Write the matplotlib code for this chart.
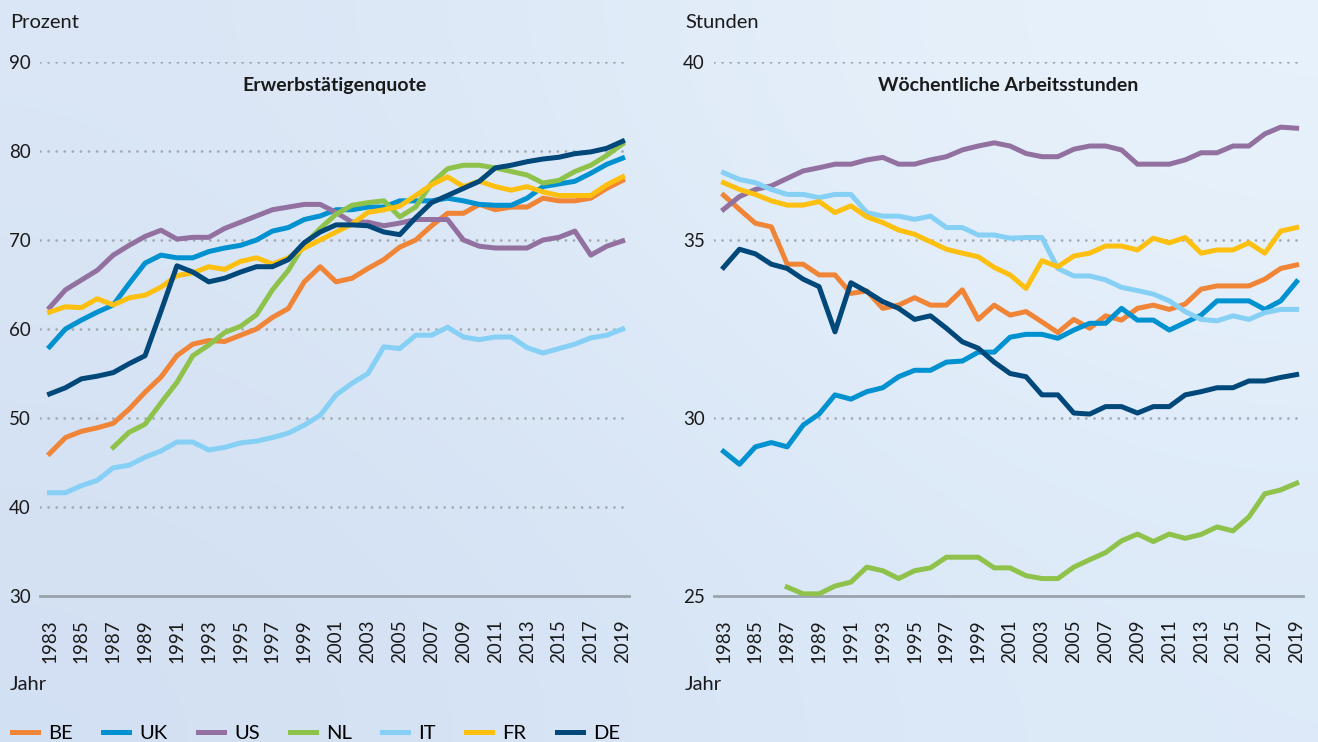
import numpy as np
import matplotlib.pyplot as plt
from matplotlib.lines import Line2D

plt.rcParams['font.family'] = ['Lato', 'DejaVu Sans']

# Jahre
years = np.arange(1983, 2020)
nl_years = np.arange(1987, 2020)
year_ticks = np.arange(1983, 2020, 2)

countries = ['BE', 'UK', 'US', 'NL', 'IT', 'FR', 'DE']
colors = ['#f08537', '#0091d1', '#9271a0', '#8fc24b', '#86d0f5', '#fdc010', '#00477a']

# Erwerbstätigenquote (Prozent)
be_quote = [46.0, 47.8, 48.5, 48.9, 49.4, 51.0, 52.9, 54.6, 57.0, 58.3, 58.7, 58.6, 59.3, 60.0, 61.3, 62.3,
            65.3, 67.0, 65.3, 65.7, 66.8, 67.8, 69.2, 70.0, 71.6, 73.0, 73.0, 74.0, 73.4, 73.7, 73.7, 74.7,
            74.4, 74.4, 74.7, 75.8, 76.7]
uk_quote = [58.0, 60.0, 61.0, 61.9, 62.7, 65.1, 67.4, 68.3, 68.0, 68.0, 68.7, 69.1, 69.4, 70.0, 71.0, 71.4,
            72.3, 72.7, 73.4, 73.4, 73.7, 73.7, 74.4, 74.4, 74.4, 74.7, 74.4, 74.0, 73.9, 73.9, 74.7, 76.0,
            76.3, 76.6, 77.5, 78.5, 79.2]
us_quote = [62.4, 64.4, 65.5, 66.6, 68.3, 69.4, 70.4, 71.1, 70.1, 70.3, 70.3, 71.3, 72.0, 72.7, 73.4, 73.7,
            74.0, 74.0, 73.1, 72.0, 72.0, 71.6, 71.9, 72.3, 72.3, 72.3, 70.0, 69.3, 69.1, 69.1, 69.1, 70.0,
            70.3, 71.0, 68.3, 69.3, 69.9]
nl_quote = [46.7, 48.4, 49.3, 51.7, 54.0, 57.0, 58.2, 59.6, 60.3, 61.6, 64.4, 66.6, 69.5, 71.3, 72.9, 73.9,
            74.2, 74.4, 72.6, 73.7, 76.4, 78.0, 78.4, 78.4, 78.1, 77.7, 77.3, 76.4, 76.7, 77.7, 78.4, 79.5,
            80.8]
it_quote = [41.6, 41.6, 42.4, 43.0, 44.4, 44.7, 45.6, 46.3, 47.3, 47.3, 46.4, 46.7, 47.2, 47.4, 47.8, 48.3,
            49.2, 50.3, 52.6, 53.9, 55.0, 58.0, 57.8, 59.3, 59.3, 60.2, 59.1, 58.8, 59.1, 59.1, 57.9, 57.3,
            57.8, 58.3, 59.0, 59.3, 60.0]
fr_quote = [61.9, 62.5, 62.4, 63.4, 62.7, 63.5, 63.8, 64.7, 66.0, 66.3, 67.0, 66.7, 67.6, 68.0, 67.3, 68.0,
            69.1, 70.0, 70.9, 71.8, 73.1, 73.4, 73.8, 75.0, 76.2, 77.1, 76.0, 76.6, 76.0, 75.6, 76.0, 75.4,
            75.0, 75.0, 75.0, 76.2, 77.1]
de_quote = [52.7, 53.4, 54.4, 54.7, 55.1, 56.1, 57.0, 62.0, 67.1, 66.4, 65.3, 65.7, 66.4, 67.0, 67.0, 67.8,
            69.7, 70.9, 71.7, 71.7, 71.6, 70.9, 70.6, 72.5, 74.2, 75.0, 75.8, 76.6, 78.1, 78.4, 78.8, 79.1,
            79.3, 79.7, 79.9, 80.3, 81.1]

# Wöchentliche Arbeitsstunden
be_std = [36.26, 35.86, 35.47, 35.37, 34.32, 34.32, 34.02, 34.02, 33.5, 33.57, 33.08, 33.17, 33.38, 33.17,
          33.17, 33.6, 32.77, 33.17, 32.89, 32.99, 32.7, 32.4, 32.77, 32.52, 32.87, 32.75, 33.08, 33.17,
          33.05, 33.2, 33.62, 33.71, 33.71, 33.71, 33.9, 34.2, 34.3]
uk_std = [29.06, 28.7, 29.19, 29.31, 29.19, 29.8, 30.11, 30.65, 30.53, 30.74, 30.85, 31.16, 31.34, 31.34,
          31.57, 31.6, 31.85, 31.85, 32.27, 32.35, 32.35, 32.24, 32.47, 32.66, 32.66, 33.08, 32.75, 32.75,
          32.47, 32.68, 32.89, 33.29, 33.29, 33.29, 33.05, 33.29, 33.83]
us_std = [35.86, 36.22, 36.42, 36.52, 36.73, 36.94, 37.03, 37.13, 37.13, 37.25, 37.32, 37.13, 37.13, 37.25,
          37.34, 37.53, 37.64, 37.73, 37.64, 37.43, 37.34, 37.34, 37.55, 37.64, 37.64, 37.53, 37.13, 37.13,
          37.13, 37.25, 37.45, 37.45, 37.64, 37.64, 37.98, 38.17, 38.14]
nl_std = [25.25, 25.06, 25.06, 25.28, 25.39, 25.81, 25.71, 25.49, 25.71, 25.79, 26.09, 26.09, 26.09, 25.79,
          25.79, 25.57, 25.49, 25.49, 25.81, 26.02, 26.22, 26.55, 26.74, 26.53, 26.74, 26.62, 26.73, 26.94,
          26.83, 27.22, 27.87, 27.98, 28.17]
it_std = [36.89, 36.70, 36.61, 36.42, 36.28, 36.28, 36.19, 36.28, 36.28, 35.77, 35.67, 35.67, 35.58, 35.67,
          35.35, 35.35, 35.14, 35.14, 35.05, 35.07, 35.07, 34.2, 33.99, 33.99, 33.88, 33.67, 33.58, 33.48,
          33.29, 32.99, 32.77, 32.73, 32.87, 32.77, 32.96, 33.05, 33.05]
fr_std = [36.61, 36.42, 36.28, 36.1, 35.98, 35.98, 36.08, 35.77, 35.96, 35.65, 35.49, 35.28, 35.16, 34.95,
          34.74, 34.63, 34.53, 34.23, 34.02, 33.64, 34.42, 34.25, 34.55, 34.63, 34.83, 34.83, 34.72, 35.05,
          34.92, 35.07, 34.63, 34.72, 34.72, 34.92, 34.63, 35.25, 35.35]
de_std = [34.23, 34.74, 34.61, 34.32, 34.2, 33.9, 33.69, 32.42, 33.8, 33.55, 33.27, 33.08, 32.77, 32.87,
          32.52, 32.14, 31.96, 31.57, 31.25, 31.16, 30.65, 30.65, 30.14, 30.11, 30.32, 30.32, 30.14, 30.32,
          30.32, 30.65, 30.74, 30.85, 30.85, 31.04, 31.04, 31.14, 31.22]

quote = [be_quote, uk_quote, us_quote, nl_quote, it_quote, fr_quote, de_quote]
stunden = [be_std, uk_std, us_std, nl_std, it_std, fr_std, de_std]

W, H = 1318, 742
fig = plt.figure(figsize=(W / 100, H / 100), dpi=100)

# Hintergrund mit leichtem Verlauf
bg = fig.add_axes([0, 0, 1, 1], zorder=-10)
grad = np.array([[[0.855, 0.902, 0.961], [0.910, 0.949, 0.988]],
                 [[0.824, 0.878, 0.953], [0.867, 0.918, 0.973]]])
bg.imshow(grad, extent=[0, 1, 0, 1], aspect='auto', interpolation='bicubic')
bg.axis('off')


def rect(x0, x1, y0, y1):
    return [x0 / W, 1 - y1 / H, (x1 - x0) / W, (y1 - y0) / H]


def setup(ax, yticks, title, title_x):
    ax.patch.set_visible(False)
    for s in ['top', 'right', 'left']:
        ax.spines[s].set_visible(False)
    ax.spines['bottom'].set_color('#9aa3ab')
    ax.spines['bottom'].set_linewidth(2)
    ax.set_xlim(1982.4, 2019.4)
    ax.set_ylim(yticks[0], yticks[-1])
    ax.set_yticks(yticks)
    ax.set_xticks(year_ticks)
    ax.set_xticklabels([str(y) for y in year_ticks], rotation=90)
    ax.tick_params(axis='both', length=0, labelsize=13.5, colors='#1a1a1a')
    ax.tick_params(axis='x', pad=17)
    ax.tick_params(axis='y', pad=6.5)
    for yv in yticks[1:]:
        ax.axhline(yv, color='#a3a9b0', lw=2, linestyle=(0, (0.01, 2.9)),
                   dash_capstyle='round', zorder=1)
    fig.text(title_x / W, 1 - 91 / H, title, ha='center', va='baseline',
             fontsize=14, fontweight='bold', color='#1a1a1a')


ax1 = fig.add_axes(rect(40, 629, 62, 596))
ax2 = fig.add_axes(rect(714, 1303, 62, 596))
setup(ax1, [30, 40, 50, 60, 70, 80, 90], 'Erwerbstätigenquote', 334)
setup(ax2, [25, 30, 35, 40], 'Wöchentliche Arbeitsstunden', 1008)

for name, col, q, s in zip(countries, colors, quote, stunden):
    xs = nl_years if name == 'NL' else years
    ax1.plot(xs, q, color=col, lw=3.6, zorder=3)
    ax2.plot(xs, s, color=col, lw=3.6, zorder=3)

fig.text(10 / W, 1 - 28 / H, 'Prozent', fontsize=14.5, va='baseline', color='#1a1a1a')
fig.text(685 / W, 1 - 28 / H, 'Stunden', fontsize=14.5, va='baseline', color='#1a1a1a')
fig.text(10 / W, 1 - 690 / H, 'Jahr', fontsize=14.5, va='baseline', color='#1a1a1a')
fig.text(685 / W, 1 - 690 / H, 'Jahr', fontsize=14.5, va='baseline', color='#1a1a1a')

handles = [Line2D([], [], color=c, lw=3.6) for c in colors]
fig.legend(handles, countries, loc='center left', bbox_to_anchor=(12 / W, 1 - 733 / H),
           ncol=7, frameon=False, fontsize=14.5, handlelength=1.3, handletextpad=0.5,
           columnspacing=1.5, borderpad=0, borderaxespad=0)

fig.savefig('out.png', dpi=100)
